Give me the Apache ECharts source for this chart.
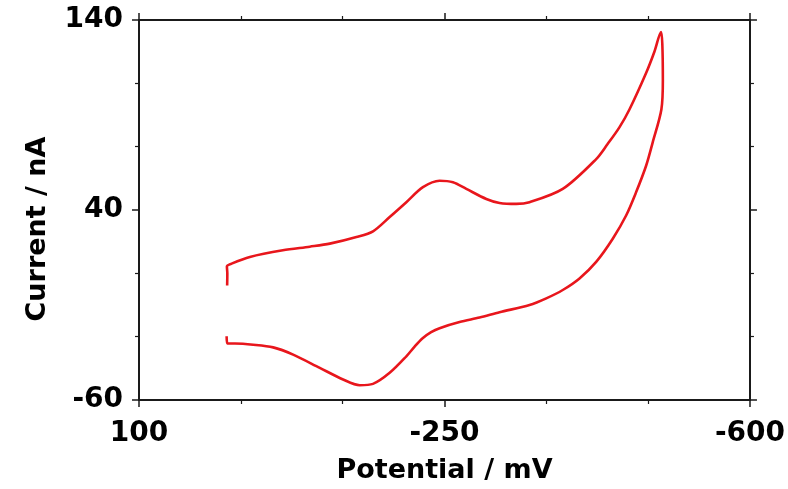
<!DOCTYPE html>
<html>
<head>
<meta charset="utf-8">
<script src="https://cdn.jsdelivr.net/npm/echarts@6/dist/echarts.min.js"></script>
<style>
html,body{margin:0;padding:0;background:#fff;}
#chart{width:788px;height:489px;}
</style>
</head>
<body>
<div id="chart"></div>
<script>
// Potential (mV) and current (nA) along the cyclic voltammogram trace
const potential = [-1.0,-1.2,-0.7,-6.1,-27.0,-64.8,-95.7,-118.6,-149.1,-168.1,-187.2,-206.3,-225.3,-244.4,-259.7,-275.0,-297.9,-313.1,-332.2,-347.4,-385.5,-423.8,-436.7,-450.4,-461.9,-481.0,-490.5,-498.1,-499.6,-500.2,-498.5,
  -488.5,-481.0,-469.5,-458.1,-442.8,-423.8,-404.7,-385.5,-366.6,-347.4,-313.1,-290.2,-267.3,-244.4,-234.7,-225.3,-215.8,-206.3,-187.2,-168.1,-152.9,-133.8,-107.1,-76.6,-53.7,-30.8,-9.9,-1.3,-0.4];
const current = [0.3,6.6,10.3,11.8,15.3,18.8,20.7,22.3,25.8,28.8,36.3,44.1,52.0,55.4,54.6,51.1,45.8,43.7,43.2,44.1,51.1,66.8,74.6,83.5,92.9,112.1,123.3,133.7,127.0,108.6,92.9,
  75.5,63.3,49.3,37.1,24.9,12.7,4.0,-2.1,-6.5,-10.0,-13.8,-16.6,-19.0,-22.2,-24.3,-27.4,-31.9,-37.0,-45.7,-51.5,-52.2,-49.2,-43.1,-36.1,-32.3,-30.9,-30.3,-30.3,-26.5];
const xTicks = [100, -250, -600];
const yTicks = [-60, 40, 140];
const xTitle = 'Potential / mV';
const yTitle = 'Current / nA';

const points = potential.map((p, i) => [p, current[i]]);
const font = 'DejaVu Sans';
const axisColor = '#1a1a1a';

function xAxisCfg(pos, showLabel) {
  return {
    type: 'value', position: pos, inverse: true,
    min: Math.min(...xTicks), max: Math.max(...xTicks), interval: 350,
    axisLine: {show: true, onZero: false, lineStyle: {color: axisColor, width: 2}},
    axisTick: {show: true, inside: false, length: 7, lineStyle: {color: axisColor, width: 1.5}},
    minorTick: {show: true, splitNumber: 3, length: 4, lineStyle: {color: axisColor, width: 1.2}},
    splitLine: {show: false},
    axisLabel: {show: showLabel, margin: 20, color: '#000', fontFamily: font, fontWeight: 'bold', fontSize: 28},
    name: pos === 'bottom' ? xTitle : '',
    nameLocation: 'middle', nameGap: 57,
    nameTextStyle: {color: '#000', fontFamily: font, fontWeight: 'bold', fontSize: 27}
  };
}
function yAxisCfg(pos, showLabel) {
  return {
    type: 'value', position: pos,
    min: Math.min(...yTicks), max: Math.max(...yTicks), interval: 100,
    axisLine: {show: true, onZero: false, lineStyle: {color: axisColor, width: 2}},
    axisTick: {show: true, inside: false, length: 7, lineStyle: {color: axisColor, width: 1.5}},
    minorTick: {show: true, splitNumber: 3, length: 4, lineStyle: {color: axisColor, width: 1.2}},
    splitLine: {show: false},
    axisLabel: {show: showLabel, margin: 16, color: '#000', fontFamily: font, fontWeight: 'bold', fontSize: 28}
  };
}

const chart = echarts.init(document.getElementById('chart'));
chart.setOption({
  animation: false,
  backgroundColor: '#fff',
  grid: {left: 139, right: 37, top: 20, bottom: 87},
  xAxis: [xAxisCfg('bottom', true), xAxisCfg('top', false)],
  yAxis: [yAxisCfg('left', true), yAxisCfg('right', false)],
  graphic: [{
    type: 'text', x: 38, y: 229, rotation: Math.PI / 2,
    style: {text: yTitle, fill: '#000', font: 'bold 27px "DejaVu Sans"', textAlign: 'center', textVerticalAlign: 'middle'}
  }],
  series: [{
    type: 'line', data: points, xAxisIndex: 0, yAxisIndex: 0,
    showSymbol: false, smooth: 0.3,
    lineStyle: {color: '#e8161c', width: 2.6}
  }]
});
</script>
</body>
</html>
